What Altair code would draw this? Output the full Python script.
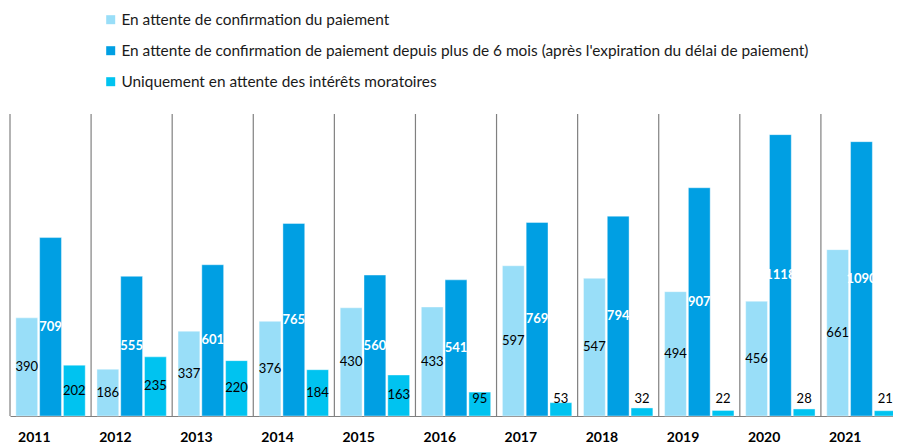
import altair as alt
import pandas as pd

years = ["2011", "2012", "2013", "2014", "2015", "2016", "2017", "2018", "2019", "2020", "2021"]
series = [
    "En attente de confirmation du paiement",
    "En attente de confirmation de paiement depuis plus de 6 mois (après l'expiration du délai de paiement)",
    "Uniquement en attente des intérêts moratoires",
]
pending = [390, 186, 337, 376, 430, 433, 597, 547, 494, 456, 661]
over_6_months = [709, 555, 601, 765, 560, 541, 769, 794, 907, 1118, 1090]
interest_only = [202, 235, 220, 184, 163, 95, 53, 32, 22, 28, 21]
colors = ["#99DEF8", "#009FE3", "#00C3F0"]

rows = []
for i, yr in enumerate(years):
    for s, vals in zip(series, [pending, over_6_months, interest_only]):
        rows.append({"year": yr, "series": s, "value": vals[i]})
df = pd.DataFrame(rows)
df["label_y"] = df["value"].apply(lambda v: max(v / 2, 67))
df["dark"] = df["series"] == series[1]

W, H = 883, 302
FONT = "Lato"

x_enc = alt.X(
    "year:N",
    sort=years,
    scale=alt.Scale(paddingInner=0, paddingOuter=0, range=[0, 892]),
    axis=alt.Axis(
        title=None, ticks=False, labelAngle=0, labelFont=FONT, labelFontSize=14,
        labelFontWeight="bold", labelColor="#000000", labelPadding=21,
        domainColor="#808080", domainWidth=1.2,
    ),
)
xo_enc = alt.XOffset("series:N", sort=series, scale=alt.Scale(paddingInner=0.083, paddingOuter=0.246))
y_scale = alt.Scale(domain=[0, 1200])

base = alt.Chart(df)

rules = alt.Chart(pd.DataFrame({"year": years})).mark_rule(color="#808080", strokeWidth=1.2).encode(
    x=alt.X("year:N", sort=years, bandPosition=0),
    y=alt.value(0),
    y2=alt.value(H),
)

bars = base.mark_bar(stroke="#ffffff", strokeWidth=0.8, strokeOpacity=0.5).encode(
    x=x_enc,
    xOffset=xo_enc,
    y=alt.Y("value:Q", scale=y_scale, axis=None),
    color=alt.Color(
        "series:N",
        sort=series,
        scale=alt.Scale(domain=series, range=colors),
        legend=alt.Legend(
            title=None, orient="none", legendX=93, legendY=-102, direction="vertical",
            symbolType="square", symbolSize=81, symbolStrokeWidth=0, labelFont=FONT,
            labelFontSize=15.4, labelColor="#1a1a1a", labelLimit=1000, rowPadding=14,
            labelOffset=3,
        ),
    ),
)

labels_light = base.transform_filter("!datum.dark").mark_text(
    font=FONT, fontSize=13, color="#000000", baseline="middle"
).encode(
    x=alt.X("year:N", sort=years),
    xOffset=xo_enc,
    y=alt.Y("label_y:Q", scale=y_scale, axis=None),
    text="value:Q",
)

labels_dark = base.transform_filter("datum.dark").mark_text(
    font=FONT, fontSize=13, color="#ffffff", fontWeight="bold", baseline="middle"
).encode(
    x=alt.X("year:N", sort=years),
    xOffset=xo_enc,
    y=alt.Y("label_y:Q", scale=y_scale, axis=None),
    text="value:Q",
)

chart = alt.layer(rules, bars, labels_light, labels_dark).properties(
    width=W,
    height=H,
    padding={"left": 2, "top": 106, "right": 0, "bottom": 34},
    autosize=alt.AutoSizeParams(type="none"),
).configure_view(stroke=None)

chart.save("out.html", embed_options={"renderer": "svg", "actions": False})
